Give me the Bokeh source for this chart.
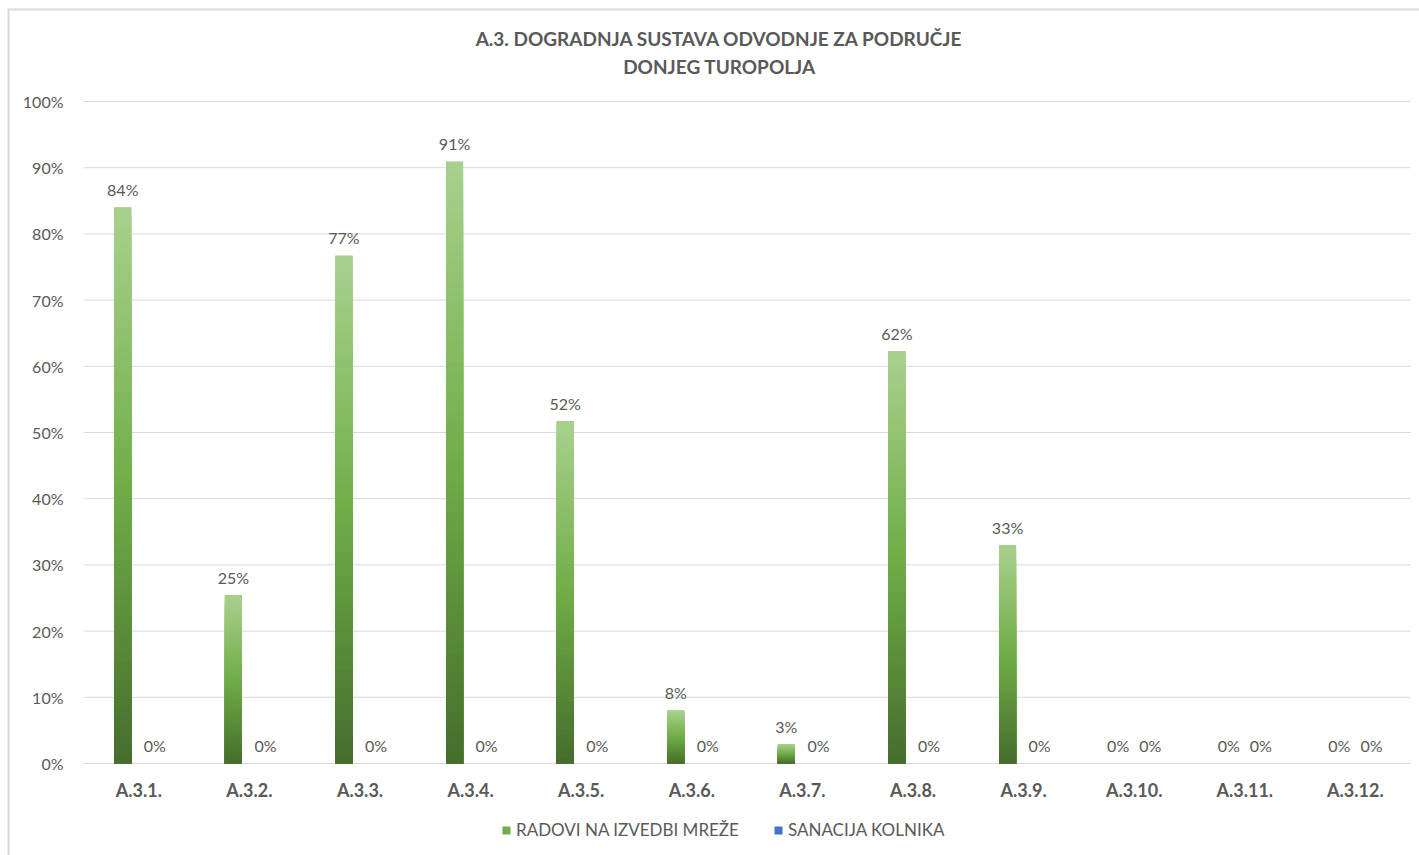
import numpy as np
from bokeh.plotting import figure
from bokeh.models import ColumnDataSource, Range1d, Label, Legend, LegendItem
from bokeh.core.properties import value
from bokeh.embed import file_html
from bokeh.resources import INLINE

# ---- data ----
categories = ["A.3.1.", "A.3.2.", "A.3.3.", "A.3.4.", "A.3.5.", "A.3.6.",
              "A.3.7.", "A.3.8.", "A.3.9.", "A.3.10.", "A.3.11.", "A.3.12."]
radovi = [84.0, 25.4, 76.7, 90.9, 51.7, 8.0, 2.9, 62.3, 33.0, 0.0, 0.0, 0.0]
sanacija = [0.0, 0.0, 0.0, 0.0, 0.0, 0.0, 0.0, 0.0, 0.0, 0.0, 0.0, 0.0]
series_names = ["RADOVI NA IZVEDBI MREŽE", "SANACIJA KOLNIKA"]
y_ticks = [0, 10, 20, 30, 40, 50, 60, 70, 80, 90, 100]
y_tick_labels = ["0%", "10%", "20%", "30%", "40%", "50%", "60%", "70%", "80%", "90%", "100%"]
title_lines = ["A.3. DOGRADNJA SUSTAVA ODVODNJE ZA PODRUČJE", "DONJEG TUROPOLJA"]

# ---- style ----
FONT = "Lato"
TXT = "#595959"
GRID = "#d9d9d9"
GREEN = "#70ad47"
BLUE = "#4472c4"
grad_stops = [(0.0, "#a9d18e"), (0.5, "#70ad47"), (1.0, "#466d2d")]

W, H = 1419, 855
PX_X = 110.6          # pixels per category
PX_Y = 6.62           # pixels per percent
LEFT, ZERO_Y = 83.0, 763.0
n = len(categories)
x0 = -LEFT / PX_X
x1 = (W - LEFT) / PX_X
y1 = 100 + (ZERO_Y - 100 * PX_Y) / PX_Y
y0 = -(H - ZERO_Y) / PX_Y

def xd(px):
    return x0 + px / PX_X

def yd(py):
    return y1 - py / PX_Y

def hex2rgb(h):
    h = h.lstrip("#")
    return np.array([int(h[i:i + 2], 16) for i in (0, 2, 4)], dtype=float)

def grad_color(f):
    for (f0, c0), (f1, c1) in zip(grad_stops[:-1], grad_stops[1:]):
        if f <= f1:
            t = (f - f0) / (f1 - f0)
            c = hex2rgb(c0) * (1 - t) + hex2rgb(c1) * t
            return "#%02x%02x%02x" % tuple(int(round(v)) for v in c)
    return grad_stops[-1][1]

centers = [i + 0.5 for i in range(n)]
OFF = 0.145
BW = 0.154
x_green = [c - OFF for c in centers]
x_blue = [c + OFF for c in centers]

p = figure(width=W, height=H, output_backend="svg", toolbar_location=None,
           x_range=Range1d(x0, x1), y_range=Range1d(y0, y1),
           x_axis_type=None, y_axis_type=None,
           min_border_left=0, min_border_right=0, min_border_top=0, min_border_bottom=0)
p.outline_line_color = None
p.background_fill_color = "white"
p.border_fill_color = "white"
p.xgrid.visible = False
p.ygrid.visible = False

# chart border (left & top visible in the view)
p.segment(x0=[xd(8), xd(7)], y0=[yd(9), yd(9)], x1=[xd(8), xd(W + 20)], y1=[yd(H + 20), yd(9)],
          line_color="#dadada", line_width=2)

# gridlines
p.segment(x0=[0] * len(y_ticks), y0=y_ticks, x1=[n] * len(y_ticks), y1=y_ticks,
          line_color=GRID, line_width=1)

# y tick labels
p.text(x=[xd(63)] * len(y_ticks), y=y_ticks, text=y_tick_labels, text_font=value(FONT),
       text_font_size="16px", text_color=TXT, text_align="right", text_baseline="middle")

# category labels
p.text(x=centers, y=[0] * n, text=categories, text_font=value(FONT), text_font_style="bold",
       text_font_size="18px", text_color=TXT, text_align="center", text_baseline="middle",
       y_offset=26)

# base bars (for legend)
src_g = ColumnDataSource(dict(x=x_green, top=radovi))
src_b = ColumnDataSource(dict(x=x_blue, top=sanacija))
r_green = p.vbar(x="x", top="top", bottom=0, width=BW, source=src_g,
                 fill_color=GREEN, line_color=None)
r_blue = p.vbar(x="x", top="top", bottom=0, width=BW, source=src_b,
                fill_color=BLUE, line_color=None)

# gradient overlay: layered rectangles, tallest first
N = 60
gx, gtop, gcol = [], [], []
for xv, v in zip(x_green, radovi):
    if v <= 0:
        continue
    for j in range(N):
        u = (N - j) / N
        gx.append(xv)
        gtop.append(v * u)
        gcol.append(grad_color(1 - (u - 0.5 / N)))
p.vbar(x=gx, top=gtop, bottom=0, width=BW, fill_color=gcol, line_color=None)

# data labels
lab_src = ColumnDataSource(dict(
    x=x_green + x_blue,
    y=radovi + sanacija,
    t=["%d%%" % round(v) for v in radovi] + ["%d%%" % round(v) for v in sanacija]))
p.text(x="x", y="y", text="t", source=lab_src, text_font=value(FONT),
       text_font_size="16px", text_color=TXT, text_align="center",
       text_baseline="middle", y_offset=-18)

# title (two lines)
for line, py in zip(title_lines, [38, 66]):
    p.add_layout(Label(x=xd(719), y=yd(py), text=line, text_font=FONT, text_font_style="bold",
                       text_font_size="19px", text_color=TXT, text_align="center",
                       text_baseline="middle"))

# legend
legend = Legend(items=[LegendItem(label=series_names[0], renderers=[r_green]),
                       LegendItem(label=series_names[1], renderers=[r_blue])],
                orientation="horizontal", location=(501, 15),
                glyph_width=10, glyph_height=10, label_standoff=5, spacing=34,
                padding=0, margin=0, border_line_color=None,
                background_fill_alpha=0, label_text_font=FONT,
                label_text_font_size="17px", label_text_color=TXT)
p.add_layout(legend)

open("out.html", "w").write(file_html(p, INLINE))
